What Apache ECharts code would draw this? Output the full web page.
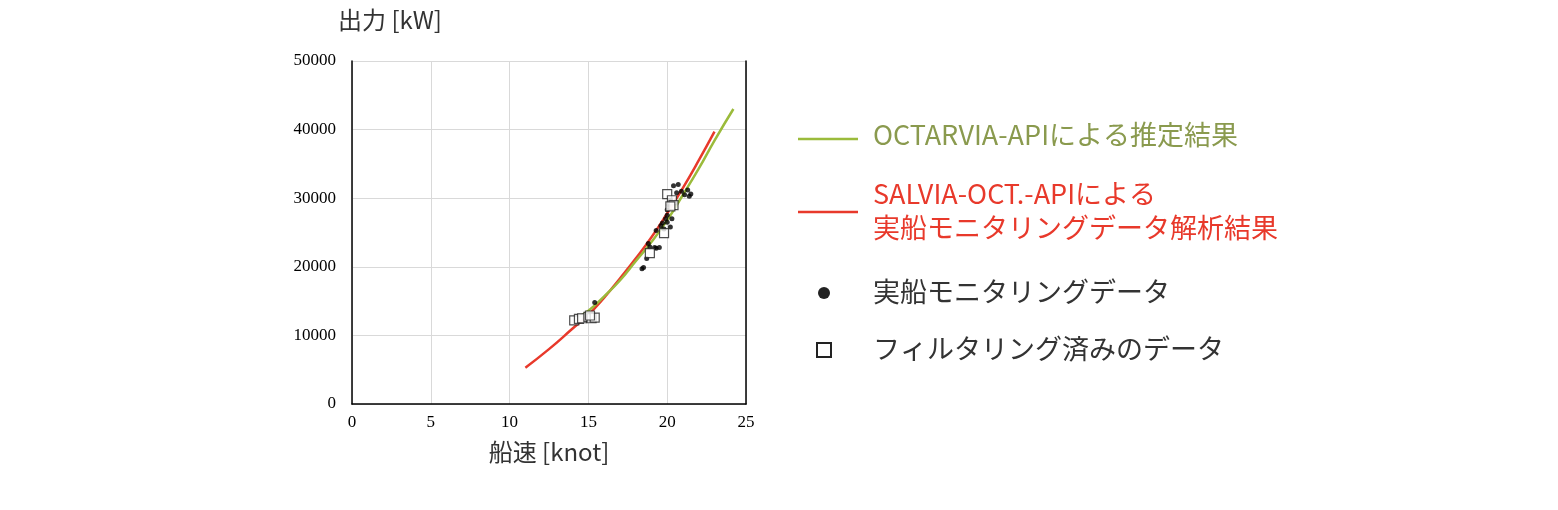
<!DOCTYPE html><html><head><meta charset="utf-8">
<script src="https://cdn.jsdelivr.net/npm/echarts@6/dist/echarts.min.js"></script>
<style>body{margin:0}#c{width:1558px;height:510px}</style></head><body><div id="c"></div><script>
const octarvia=[[14.3,12600],[15,13600],[16,15700],[17,18000],[18,20800],[19,23600],[20,26800],[21,30500],[22,34300],[23,38400],[24.2,43000]];
const salvia=[[11,5300],[12.5,8000],[14,11000],[15,13000],[16,15500],[17,18300],[18,21200],[19,24300],[20,27800],[21,31500],[22,35500],[23,39700]];
const monitoring=[[15,12800],[15.4,14800],[15.1,13000],[18.4,19700],[18.5,19900],[18.7,21200],[18.8,23400],[19.2,22800],[19.3,22700],[19.5,22800],[19.3,25300],[19.8,25500],[19.7,26400],[19.9,27000],[20,26500],[20.2,25800],[20.3,27000],[20,28300],[20.1,29000],[20.4,31800],[20.7,32000],[20.9,31000],[21.1,30500],[21.3,31200],[21.5,30600],[21.4,30300],[20.6,30800],[20.2,29800],[20,27500],[19.6,26000],[18.9,22900]];
const filtered=[[14.1,12200],[14.4,12400],[14.6,12500],[15,12700],[15.2,12500],[15.4,12600],[15.1,12900],[18.9,22000],[19.8,24900],[20,30600],[20.3,29700],[20.4,29000],[20.2,28800]];
const legendLabels=['OCTARVIA-APIによる推定結果','SALVIA-OCT.-APIによる\n実船モニタリングデータ解析結果','実船モニタリングデータ','フィルタリング済みのデータ'];
const yName='出力 [kW]';
const sans='"Noto Sans CJK JP","Noto Sans",sans-serif';
const chart=echarts.init(document.getElementById('c'));
const lbl={fontFamily:'Liberation Serif',fontSize:17,color:'#000',formatter:v=>String(v)};
chart.setOption({animation:false,
grid:{left:352,right:812,top:61,bottom:106},
xAxis:{type:'value',min:0,max:25,interval:5,name:'船速 [knot]',nameLocation:'middle',nameGap:36,nameTextStyle:{fontFamily:sans,fontSize:24,color:'#333'},
 axisLine:{lineStyle:{color:'#000',width:1.5}},axisTick:{show:false},axisLabel:Object.assign({margin:10},lbl),splitLine:{lineStyle:{color:'#d9d9d9'}}},
yAxis:[{type:'value',min:0,max:50000,interval:10000,
 axisLine:{show:true,lineStyle:{color:'#000',width:1.5}},axisTick:{show:false},axisLabel:Object.assign({margin:16},lbl),splitLine:{lineStyle:{color:'#d9d9d9'}}},
 {type:'value',min:0,max:50000,interval:10000,position:'right',axisLine:{show:true,lineStyle:{color:'#000',width:1.5}},axisTick:{show:false},axisLabel:{show:false},splitLine:{show:false}}],
graphic:[
 {type:'text',left:338,top:8,style:{text:yName,font:'24px '+sans,fill:'#333'}},
 {type:'line',shape:{x1:798,y1:139,x2:858,y2:139},style:{stroke:'#9bbb3b',lineWidth:2.5}},
 {type:'text',left:873,top:121,style:{text:legendLabels[0],font:'27px '+sans,fill:'#8a9a4e'}},
 {type:'line',shape:{x1:798,y1:212,x2:858,y2:212},style:{stroke:'#e8392b',lineWidth:2.5}},
 {type:'text',left:873,top:177,style:{text:legendLabels[1],font:'27px '+sans,fill:'#e8392b',lineHeight:34}},
 {type:'circle',shape:{cx:824,cy:293,r:6},style:{fill:'#222'}},
 {type:'text',left:873,top:278,style:{text:legendLabels[2],font:'27px '+sans,fill:'#333'}},
 {type:'rect',shape:{x:817,y:343,width:14,height:14},style:{fill:'#fff',stroke:'#222',lineWidth:2}},
 {type:'text',left:873,top:335,style:{text:legendLabels[3],font:'27px '+sans,fill:'#333'}}
],
series:[
 {type:'line',data:salvia,smooth:true,showSymbol:false,lineStyle:{color:'#e8392b',width:2.5},z:2},
 {type:'line',data:octarvia,smooth:true,showSymbol:false,lineStyle:{color:'#9bbb3b',width:2.5},z:3},
 {type:'scatter',data:monitoring,symbol:'circle',symbolSize:5,itemStyle:{color:'#000'},z:4},
 {type:'scatter',data:filtered,symbol:'rect',symbolSize:9,itemStyle:{color:'#fff',borderColor:'#222',borderWidth:1.2},z:5}
]});
</script></body></html>
